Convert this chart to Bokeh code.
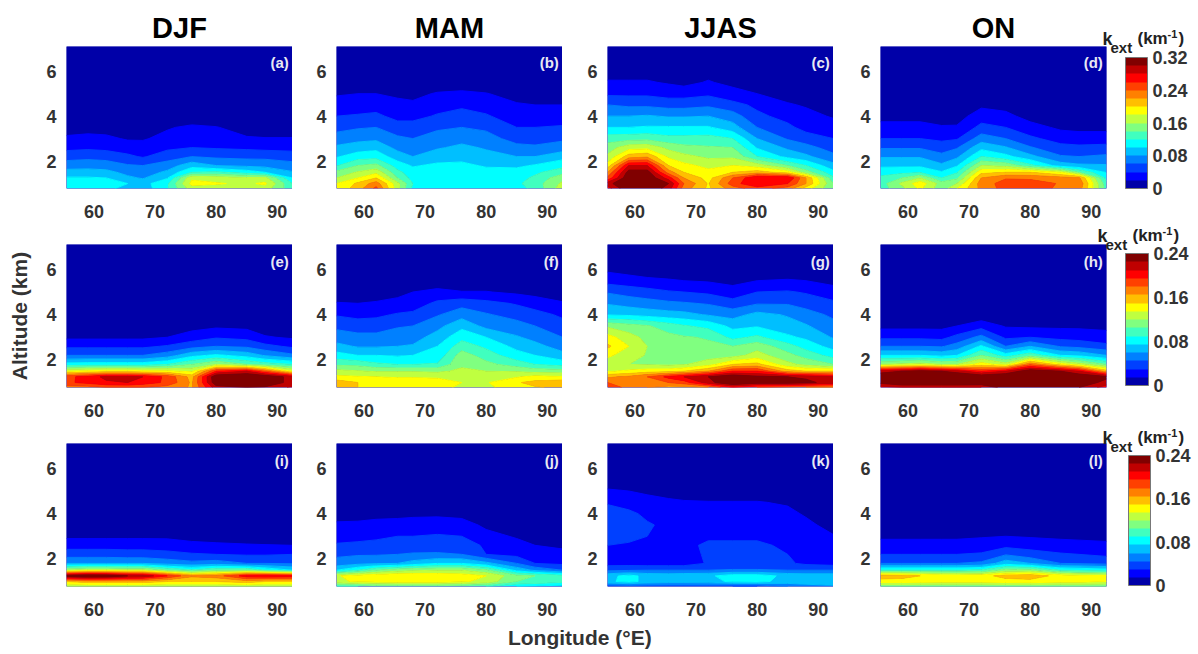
import numpy as np
from bokeh.plotting import figure
from bokeh.layouts import row, column
from bokeh.embed import file_html
from bokeh.resources import INLINE
from bokeh.models import Label, ColorBar, LinearColorMapper, FixedTicker

lons = [55.5, 59, 62, 65.5, 68, 72, 76, 80, 85, 88, 92.5]
alts = [0.78, 1.0, 1.25, 1.5, 1.8, 2.2, 2.6, 3.0, 3.5, 4.0, 4.5, 5.0, 5.5, 6.0, 7.1]
seasons = ["DJF", "MAM", "JJAS", "ON"]
panel_tags = list("abcdefghijkl")
band_step = [0.02, 0.015, 0.015]
bar_top = [0.32, 0.24, 0.24]
bar_ticks = [[0, 0.08, 0.16, 0.24, 0.32], [0, 0.08, 0.16, 0.24], [0, 0.08, 0.16, 0.24]]
colors = ["#0000a8", "#0000ff", "#0040ff", "#0080ff", "#00bfff", "#00ffff", "#40ffbf", "#80ff80",
          "#bfff40", "#ffff00", "#ffbf00", "#ff8000", "#ff4000", "#ff0000", "#bf0000", "#800000"]
T = [0.3] * 11

# Extinction, in colour-band units (one band = band_step km-1); rows follow alts.
z_a = [[5.2,5.3,5.3,4.6,4.4,5.9,8.5,8.5,8.3,8.5,6.3],
       [5.5,5.5,5.4,5.0,4.6,5.8,9.3,9.1,8.8,9.2,6.0],
       [5.1,5.1,5.0,4.2,3.9,4.9,8.8,8.5,8.2,8.3,5.0],
       [4.4,4.4,4.3,3.7,3.5,4.2,6.0,6.2,5.5,5.0,4.1],
       [3.5,3.6,3.5,3.1,3.0,3.5,4.6,4.0,3.8,3.7,3.3],
       [2.6,2.7,2.6,2.2,1.9,2.5,3.0,2.8,2.7,2.7,2.6],
       [1.7,1.8,1.7,1.5,1.4,1.8,2.0,1.9,1.8,1.7,1.6],
       [1.15,1.3,1.2,0.9,0.9,1.3,1.6,1.4,1.1,1.05,1.05],
       [0.6,0.6,0.6,0.5,0.5,0.9,1.2,1.05,0.6,0.5,0.5], T, T, T, T, T, T]
z_b = [[9.2,10.5,12.3,8.3,5.7,5.4,5.4,5.4,5.7,6.2,8.6],
       [9.0,10.2,11.5,8.3,6.0,5.6,5.5,5.5,5.8,6.5,8.2],
       [8.0,9.0,10.0,7.0,5.6,5.5,5.5,5.4,5.6,6.2,7.7],
       [7.3,8.1,8.7,6.3,5.4,5.4,5.4,5.3,5.4,5.8,6.6],
       [5.9,7.0,7.3,5.5,4.9,5.2,5.2,4.9,4.8,5.1,5.7],
       [4.9,5.5,5.6,4.5,4.0,4.5,4.7,4.3,4.0,4.0,4.6],
       [4.2,4.5,4.7,3.7,3.5,3.9,4.2,3.9,3.3,3.2,3.5],
       [3.4,3.7,3.8,3.2,3.0,3.5,3.7,3.4,2.6,2.5,2.8],
       [2.7,2.9,3.0,2.4,2.4,2.8,3.0,2.8,2.0,2.0,2.1],
       [2.0,2.1,2.2,1.7,1.7,2.1,2.4,2.1,1.5,1.5,1.5],
       [1.4,1.5,1.6,1.3,1.2,1.6,1.8,1.6,1.1,1.0,1.0],
       [0.9,1.0,1.0,0.8,0.7,1.1,1.25,1.05,0.6,0.6,0.5], T, T, T]
z_c = [[13.5,16,16,14.5,11.5,9.8,11.5,12.5,11.5,9.5,7.0],
       [14.5,16.5,16.5,15,12,9.9,12.5,14,13,11,7.0],
       [12.2,16,16,13.5,11,9.6,12,14,14,11,6.2],
       [11,15.5,15.5,11.5,10,9.3,10,10.5,9.5,7.5,5.3],
       [9.4,14,14,10,9.3,8.7,9,8.5,7,6,4.3],
       [8.2,10.5,10.8,8.8,8.3,7.8,7.8,6.0,4.7,4.2,3.3],
       [7.5,8.6,8.7,7.7,7.3,7.1,7.0,4.9,3.8,3.4,2.5],
       [6.5,6.6,6.7,6.3,6.3,6.4,6.0,4.0,2.9,2.4,2.0],
       [5.0,5.0,5.1,5.1,5.1,5.1,4.4,3.0,2.2,1.7,1.4],
       [4.0,4.0,4.1,3.9,3.9,4.0,3.5,2.2,1.7,1.3,0.9],
       [3.0,2.8,2.8,2.6,2.6,2.8,2.3,1.8,1.1,0.9,0.5],
       [1.8,1.8,1.8,1.6,1.6,1.8,1.4,1.0,0.6,0.4,0.3],
       [1.1,1.1,1.1,0.9,0.7,1.1,0.7,0.4,0.3,0.3,0.3],
       [0.6,0.6,0.6,0.5,0.4,0.6,0.3,0.3,0.3,0.3,0.3], T]
z_d = [[6.5,7.7,9.2,7.3,9.0,11.3,12.4,12.5,11.8,11.5,6.5],
       [6.5,8.2,9.6,7.5,8.0,11.5,12.4,12.5,11.9,11.8,6.3],
       [6.2,7.0,8.0,6.0,6.8,11.0,11.9,11.8,11.4,11.2,5.6],
       [5.6,5.7,5.9,5.1,5.9,9.7,10,10,9,7,4.9],
       [4.8,4.8,4.8,4.2,4.9,8,7.7,6.3,4.5,4.2,4.1],
       [3.9,3.9,3.9,3.3,3.8,6,5.3,4.3,3.1,3,3.2],
       [2.9,2.9,2.9,2.5,2.9,4.7,4.1,3.1,2.3,2.2,2.3],
       [2.0,2.0,2.0,1.8,1.9,3.5,3,2.2,1.6,1.5,1.5],
       [1.3,1.3,1.3,1.1,1.1,2.3,2,1.4,0.8,0.7,0.7],
       [0.7,0.7,0.7,0.5,0.6,1.5,1.3,0.6,0.4,0.3,0.3],
       [0.3,0.3,0.3,0.3,0.3,0.8,0.6,0.3,0.3,0.3,0.3], T, T, T, T]
z_e = [[11.5,11.5,12,12,12,11.5,10.9,14.5,15,14.8,13.8],
       [12.8,13.3,13.8,14,13.5,12.8,10.8,15.8,16.2,16,14.5],
       [12.7,13.4,14.3,14.3,14,12.7,10.6,16,16.3,16,14.5],
       [9,9.3,9.5,9.5,9.3,9.2,8.8,13,14,12,9],
       [5.4,5.5,5.5,5.5,5.5,6,7,8,7,6.5,6],
       [3,3,3,3,3,3.5,4.7,5.2,4.6,3.9,3.2],
       [1.8,1.8,1.8,1.8,1.8,2.1,2.6,3,2.8,2.3,1.8],
       [0.8,0.8,0.8,0.8,0.8,1,1.5,1.9,1.7,1.1,0.85],
       [0.3,0.3,0.3,0.3,0.3,0.4,0.6,0.8,0.7,0.4,0.3], T, T, T, T, T, T]
z_f = [[10.3,10,9.6,9.5,9.5,9.5,8.7,8.7,9.7,9.9,10.2],
       [10.6,10,9.7,9.6,9.6,9.6,9,8.9,9.9,10.3,10.7],
       [9.2,9.1,9,8.9,8.9,8.8,8.6,8.4,8.9,9.3,9.1],
       [8.3,8.1,7.9,7.9,7.9,7.8,8.2,8,7.9,7.6,7.5],
       [6.8,6.7,6.2,6,6,6.1,7.8,7.3,6.5,6,5.6],
       [5.4,5,5,4.9,5,5.3,7.5,6.5,5.4,5,4.3],
       [4.3,3.9,3.9,4,4.1,5,6.5,5.8,4.7,4.3,3.6],
       [3.5,3.3,3.3,3.5,3.6,4.4,5.7,5,4.1,3.7,3],
       [2.75,2.5,2.5,2.9,3,3.7,4.7,3.7,3.4,3,2.3],
       [1.9,1.7,1.8,2.1,2.2,2.9,3.6,3.1,2.6,2.3,1.85],
       [1.05,1,1.1,1.3,1.5,2.2,2.6,2.3,1.9,1.6,1.1],
       [0.5,0.5,0.5,0.7,1,1.3,1.05,1.05,0.8,0.6,0.4], T, T, T]
z_g = [[13,11.5,11,10.6,10.5,11,13,12,11.5,11,11],
       [12,11.8,11.8,12,12.5,14.5,16.3,15.5,15.5,15.3,14.5],
       [10.8,11.2,12,13.3,14,15,16,15.3,15,14.8,14],
       [8.9,9.2,9.5,9.6,10,11,13,13,10.5,10,10],
       [8.4,8,7.9,7.8,7.9,8.6,10,10.3,8.3,7.7,7],
       [9.2,8.5,7.9,7.5,7.4,7.5,7.6,8.4,7.3,6.6,5.6],
       [10.2,9,8,7.6,7.3,7.2,7,7.6,6.4,5.6,4.6],
       [9.4,8.4,7.7,7.3,7.1,6.9,5.7,6.2,5.2,4.8,3.9],
       [7.8,7.4,7.1,6.5,6.1,5.7,4.7,4.9,4.4,4.1,3.3],
       [4.9,4.8,4.6,4.4,4.3,3.9,3.6,4.3,3.9,3.4,2.8],
       [3.9,3.6,3.4,3.2,3.1,2.9,2.4,2.9,2.9,2.6,2.2],
       [2.9,2.6,2.4,2.1,2,1.8,1.4,2,2.1,1.9,1.4],
       [1.6,1.4,1.2,1.1,1,0.9,0.7,1,1.1,1,0.7],
       [0.8,0.6,0.5,0.4,0.4,0.3,0.3,0.3,0.3,0.3,0.3], T]
z_h = [[13.5,14,14,14,14,14,15.5,15.8,15.5,15,13.5],
       [15.3,16,16,16,16,15.8,16,16.5,16,16,14.5],
       [16,16.3,16.5,16.5,16.3,16,16.3,16.8,16.5,16,15.3],
       [14.5,15,15.5,15,14.5,13,14,15.8,15,14,10.5],
       [8,8.2,8.5,8,8,9.5,8.5,11.8,9.5,8.5,7],
       [5,5,5,4.7,5,7,5.5,6.7,5,4.8,4],
       [3,3,3,2.9,3.4,5.2,3,4,2.9,2.7,2.3],
       [1.8,1.8,1.8,1.7,2.3,3.3,1.8,2,1.7,1.6,1.3],
       [0.7,0.7,0.7,0.7,1,1.6,0.9,0.8,0.8,0.8,0.8], T, T, T, T, T, T]
z_i = [[8,8,8,8,8,8,8,8,8,8,8],
       [10,10.5,10.5,10.5,10.5,10,10,10,10.5,10,10],
       [15.5,16.2,16,15,14.8,13,11.2,11.5,13.5,13.8,13.5],
       [8,8.5,8.5,8.3,8.3,7,6.2,7,7,6,5],
       [4,4,4,4,4,3.6,3.3,3.5,3,3,2.9],
       [2.5,2.5,2.5,2.4,2.4,2.3,2.1,2,1.9,1.9,2],
       [1.6,1.6,1.6,1.6,1.6,1.5,1.3,1.2,1.1,1.05,1],
       [0.8,0.8,0.8,0.8,0.8,0.8,0.6,0.5,0.4,0.4,0.4], T, T, T, T, T, T, T]
z_j = [[6,6,6.5,6.5,6.5,6.5,6.3,6,5,4.8,4.5],
       [8.7,9.2,9.3,9.4,9.4,9.4,9.2,8.6,7,6.8,6.3],
       [8.9,9.4,9.7,9.8,9.8,9.7,9.5,9,7.3,7,6.3],
       [5,6,7,7.6,7.8,8,8,7.2,4.7,3.8,3],
       [3.4,3.7,3.9,4,4.4,5,5,4.3,3,2,1.8],
       [2.8,2.9,2.9,3,3.1,3.1,3,2,1.7,1.5,1.3],
       [2.1,2.2,2.3,2.4,2.45,2.6,2.6,1.8,1.3,1,0.8],
       [1.65,1.7,1.8,2,2,2.1,2,1.3,0.9,0.6,0.5],
       [1.15,1.2,1.3,1.4,1.4,1.5,1.4,0.8,0.5,0.4,0.3],
       [0.6,0.6,0.7,0.7,0.8,0.8,0.7,0.4,0.3,0.3,0.3], T, T, T, T, T]
z_k = [[2.2,2.3,2.3,2.3,2.3,2.3,2,2,3,3.5,3.8],
       [4.8,5.3,4.7,4.5,4.5,4.6,5.2,5.3,4.6,4.6,4.6],
       [4.7,5.3,4.7,4.6,4.7,4.8,5.5,5.5,4.7,4.6,4.6],
       [2.8,2.9,3,3,3,3,3.1,3.1,3,3,3],
       [1.6,1.6,1.5,1.5,1.5,2.1,2.2,2.2,2.15,1.8,1.6],
       [1.7,1.7,1.6,1.5,1.5,2.2,2.2,2.2,2,1.7,1.5],
       [2,1.9,1.8,1.6,1.7,2.2,2.2,2.2,1.8,1.5,1.4],
       [2.2,2.2,2,1.7,1.7,1.8,1.8,1.8,1.6,1.4,1.05],
       [2.5,2.3,2.1,1.8,1.6,1.6,1.6,1.6,1.4,1.2,0.7],
       [2.4,2.2,1.8,1.5,1.4,1.4,1.4,1.4,1.2,0.9,0.5],
       [1.9,1.6,1.4,1.2,1.1,1.05,1.05,1.05,0.9,0.6,0.4],
       [1.15,1,0.8,0.6,0.5,0.5,0.5,0.5,0.4,0.3,0.3], T, T, T]
z_l = [[7,7,7,7,7,7,7,7,7,7,7],
       [9.5,9.5,9.4,9.3,9.3,9.3,9.5,9.6,9.3,9.3,9],
       [10.6,10.4,10,9.6,9.5,9.6,10.4,10.6,9.6,9.3,9.2],
       [6,6,6,6,6,6.2,7.5,7.5,6,5.8,5.5],
       [3,3,3,3,3,3.2,4.6,4,3,2.9,2.7],
       [2,2,2,2,2,2.1,2.9,2.4,2.1,2,1.8],
       [1.4,1.4,1.4,1.4,1.4,1.5,1.7,1.6,1.4,1.4,1.3],
       [0.8,0.8,0.8,0.8,0.8,0.9,1,0.9,0.8,0.7,0.6], T, T, T, T, T, T, T]
grids = [z_a, z_b, z_c, z_d, z_e, z_f, z_g, z_h, z_i, z_j, z_k, z_l]

FONT = "Liberation Sans"
TICK = "#333333"
left_borders = [66, 44, 45, 47]
frame_h = [142, 143, 143]
top_borders = [46, 20, 20]
bottom_border = 36
right_border_d = 88
bar_geo = [(245, 0, 22, 131), (245, 2, 23, 132), (248, 1, 22, 130)]  # x, y, w, h from frame corner
title_shift = [(0, 0), (-5, 1), (0, -2)]                             # k-ext title, per row
title_parts = [("k", -4, 8, "18px"), ("ext", 4, -1, "15px"), ("(km", 31, 8, "17px"),
               ("-1", 61, 13, "11px"), (")", 72, 8, "17px")]


def panel(i):
    r, c = i // 4, i % 4
    rb = right_border_d if c == 3 else 0
    p = figure(frame_width=226, frame_height=frame_h[r], x_range=(55.5, 92.5), y_range=(0.78, 7.1),
               output_backend="svg", toolbar_location=None, tools="",
               min_border_left=left_borders[c], min_border_right=rb, min_border_top=top_borders[r],
               min_border_bottom=bottom_border, outline_line_color=None, background_fill_color=colors[0],
               border_fill_color="white")
    p.grid.visible = False
    p.xaxis.ticker = [60, 70, 80, 90]
    p.yaxis.ticker = [2, 4, 6]
    for ax in (p.xaxis[0], p.yaxis[0]):
        ax.axis_line_color = None
        ax.major_tick_line_color = None
        ax.minor_tick_line_color = None
        ax.major_label_text_font = FONT
        ax.major_label_text_font_style = "bold"
        ax.major_label_text_font_size = "18px"
        ax.major_label_text_color = TICK
    p.xaxis[0].major_label_standoff = 10
    p.yaxis[0].major_label_standoff = 4
    step = band_step[r]
    levels = [k * step for k in range(16)] + [99 * step]
    p.contour(lons, alts, np.array(grids[i], dtype=float) * step, levels,
              fill_color=colors, line_color=colors + [colors[-1]], line_width=1)
    p.add_layout(Label(x=91.9, y=6.37, text="(%s)" % panel_tags[i], text_align="right", text_baseline="middle",
                       text_color="#e8e8f4", text_font=FONT, text_font_style="bold", text_font_size="15px"))
    if r == 0:
        p.title.text = seasons[c]
        p.title.align = "center"
        p.title.text_font = FONT
        p.title.text_font_size = "29px"
        p.title.text_font_style = "bold"
        p.title.text_color = "#000000"
        p.title.standoff = 6
    if i == 4:
        p.yaxis[0].axis_label = "Altitude (km)"
        p.yaxis[0].axis_label_text_font = FONT
        p.yaxis[0].axis_label_text_font_style = "bold"
        p.yaxis[0].axis_label_text_font_size = "21px"
        p.yaxis[0].axis_label_text_color = TICK
        p.yaxis[0].axis_label_standoff = 12
    if c == 3:
        sx, sy = title_shift[r]
        for text, dx, dy, size in title_parts:
            p.add_layout(Label(x=92.5, y=7.1, x_offset=dx + sx, y_offset=dy + sy, text=text,
                               text_baseline="alphabetic", text_font=FONT, text_font_style="bold",
                               text_font_size=size, text_color="#222222"), "right")
        bx, by, bw, bh = bar_geo[r]
        mapper = LinearColorMapper(palette=colors, low=0, high=bar_top[r])
        cb = ColorBar(color_mapper=mapper, ticker=FixedTicker(ticks=bar_ticks[r]), location=(bx, by),
                      width=bw, height=bh, padding=0, margin=0, background_fill_alpha=0, border_line_color=None,
                      bar_line_color="#777777", major_tick_line_color=None, minor_tick_line_color=None,
                      label_standoff=5, major_label_text_font=FONT, major_label_text_font_style="bold",
                      major_label_text_font_size="18px", major_label_text_color=TICK)
        p.add_layout(cb)
    return p


figs = [panel(i) for i in range(12)]
bottom = figure(width=1192, height=30, output_backend="svg", toolbar_location=None, tools="",
                x_range=(0, 1), y_range=(0, 1), x_axis_type=None, y_axis_type=None,
                outline_line_color=None, min_border=0)
bottom.grid.visible = False
bottom.add_layout(Label(x=0.486, y=0.5, text="Longitude (°E)", text_align="center", text_baseline="middle",
                        text_font=FONT, text_font_style="bold", text_font_size="21px", text_color=TICK))
bottom.scatter([0.5], [0.5], size=0, alpha=0)

page = column(row(figs[:4], spacing=0), row(figs[4:8], spacing=0), row(figs[8:], spacing=0), bottom, spacing=0)
open("out.html", "w").write(file_html(page, INLINE))
